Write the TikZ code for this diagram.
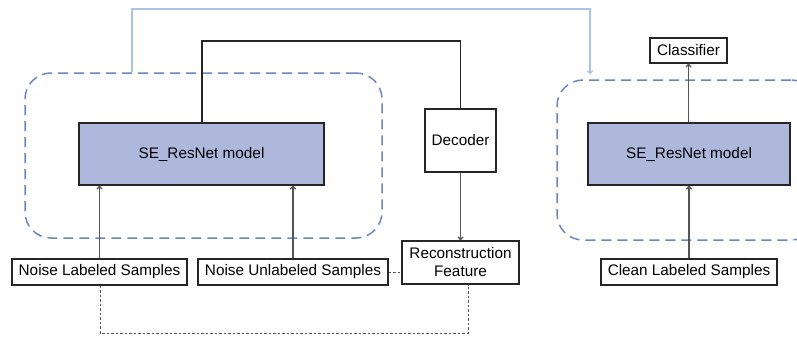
\documentclass[tikz,border=0pt]{standalone}
\usepackage{fontspec}
\setmainfont{Liberation Sans}
\usetikzlibrary{arrows.meta}
\definecolor{sefill}{HTML}{AEB8DC}
\definecolor{grpblue}{HTML}{6A86C0}
\definecolor{lightline}{HTML}{A9C4E0}
\definecolor{lineg}{HTML}{555555}
\begin{document}
\begin{tikzpicture}[x=1pt,y=-1pt,
  box/.style={draw=black!85,line width=1.2pt,fill=white,inner sep=0pt,align=center,font=\fontsize{15.3}{18}\selectfont},
  sebox/.style={draw=black!85,line width=1.2pt,fill=sefill,inner sep=0pt,font=\fontsize{15.3}{18}\selectfont},
  grp/.style={draw=grpblue,line width=1.5pt,dash pattern=on 10pt off 6pt,rounded corners=26pt,inner sep=0pt},
  arr/.style={draw=lineg,line width=1.3pt,-{To[length=4pt,width=6pt]}},
  dotl/.style={draw=lineg,line width=1pt,dash pattern=on 2.5pt off 2pt}]
\useasboundingbox (0,0) rectangle (797,340);
\begin{scope}
\clip (0,0) rectangle (797,340);
% groups
\node[grp,minimum width=357pt,minimum height=165pt] (lg) at (203.5,155.5) {};
\node[grp,minimum width=260pt,minimum height=160pt] (rg) at (687,160) {};
% model boxes
\node[sebox,minimum width=245pt,minimum height=62pt] (se1) at (201.5,154) {SE\_ResNet model};
\node[sebox,minimum width=202pt,minimum height=62pt] (se2) at (689,154) {SE\_ResNet model};
\node[box,minimum width=71pt,minimum height=63pt] (dec) at (460.5,140.5) {Decoder};
\node[box,minimum width=117pt,minimum height=43pt] (rec) at (460.5,262.5) {Reconstruction\\Feature};
\node[box,minimum width=175pt,minimum height=26pt] (nl) at (99.5,272) {Noise Labeled Samples};
\node[box,minimum width=190pt,minimum height=26pt] (nu) at (293,272) {Noise Unlabeled Samples};
\node[box,minimum width=176pt,minimum height=26pt] (cl) at (689,272) {Clean Labeled Samples};
\node[box,minimum width=77pt,minimum height=25pt] (cls) at (688.5,50.5) {Classifier};
% connectors
\coordinate (b1) at (132,9);
\coordinate (b2) at (590,9);
\draw[draw=lightline,line width=1.2pt,-{To[length=4pt,width=6pt]}] (lg.north -| b1) -- (b1) -- (b2) -- ([yshift=5pt]rg.north -| b2);
\coordinate (k1) at (202,41);
\draw[draw=black!85,line width=1.3pt] (se1.north -| k1) -- (k1) -| (dec.north);
\draw[arr] (dec.south) -- (rec.north);
\draw[arr] (nl.north) -- (se1.south -| nl.north);
\draw[arr] (nu.north) -- (se1.south -| nu.north);
\draw[arr] (cl.north) -- (se2.south -| cl.north);
\draw[arr] (se2.north -| cls.south) -- (cls.south);
\draw[dotl] (nu.east) -- (nu.east -| rec.west);
\coordinate (d1) at (100,333);
\coordinate (d2) at (468,333);
\draw[dotl] (nl.south -| d1) -- (d1) -- (d2) -- (rec.south -| d2);
\end{scope}
\end{tikzpicture}
\end{document}
